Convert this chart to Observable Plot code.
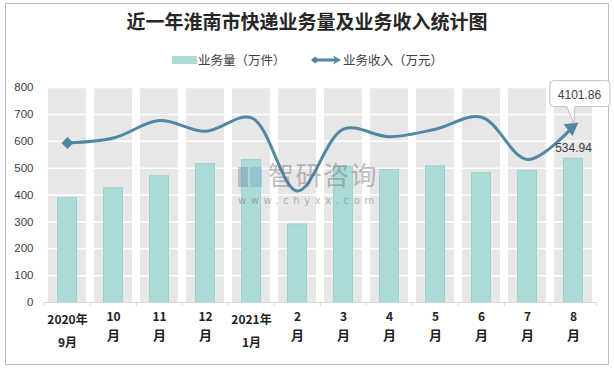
<!DOCTYPE html>
<html><head><meta charset="utf-8">
<script src="https://cdn.jsdelivr.net/npm/d3@7"></script>
<script src="https://cdn.jsdelivr.net/npm/@observablehq/plot@0.6"></script>
<style>
body{margin:0;background:#fff;font-family:"Noto Sans CJK SC","Noto Sans",sans-serif;}
#wrap{position:relative;width:614px;height:369px;overflow:hidden;background:#fff;}
#frame{position:absolute;left:5px;top:3px;width:602px;height:360px;border:1px solid #bdbdbd;}
#title{position:absolute;left:0;width:614px;top:7px;text-align:center;font-size:19px;font-weight:bold;color:#262626;line-height:28px;}
.leg{position:absolute;top:51px;font-size:12.5px;color:#404040;line-height:18px;}
#chart{position:absolute;left:0;top:75px;}
#wm1{position:absolute;left:268px;top:161px;font-size:26px;color:rgba(110,110,110,0.45);letter-spacing:1.5px;line-height:26px;}
#wm2{position:absolute;left:238px;top:195px;font-size:10px;color:rgba(110,110,110,0.5);letter-spacing:4.6px;font-family:"DejaVu Sans",sans-serif;line-height:11px;white-space:nowrap;}
#wmicon{position:absolute;left:238px;top:166px;width:24px;height:22px;}
</style></head>
<body>
<div id="wrap">
  <div id="frame"></div>
  <div id="title">近一年淮南市快递业务量及业务收入统计图</div>
  <div class="leg" style="left:172px;"><svg width="26" height="18" style="vertical-align:top"><rect x="0" y="5" width="25" height="8" fill="#aadbd7"/></svg><span id="legA"></span></div>
  <div class="leg" style="left:311px;"><svg width="32" height="18" style="vertical-align:top"><line x1="4" y1="9" x2="25" y2="9" stroke="#5088a2" stroke-width="3"/><path d="M0,9L4,5.5L8,9L4,12.5Z" fill="#5088a2"/><path d="M30,9L22,4.5L24,9L22,13.5Z" fill="#5088a2"/></svg><span id="legB"></span></div>
  <div id="chart"></div>
  <svg id="wmicon" viewBox="0 0 24 22"><rect x="0" y="1" width="10" height="20" fill="rgba(120,140,170,0.45)"/><rect x="12" y="1" width="12" height="20" fill="rgba(120,170,200,0.45)"/></svg>
  <div id="wm1">智研咨询</div>
  <div id="wm2">www.chyxx.com</div>
</div>
<script>
// ---- data ----
const months = ["2020年9月","10月","11月","12月","2021年1月","2月","3月","4月","5月","6月","7月","8月"];
const labelLine1 = ["2020年","10","11","12","2021年","2","3","4","5","6","7","8"];
const labelLine2 = ["9月","月","月","月","1月","月","月","月","月","月","月","月"];
const volume = [388, 425, 470, 515, 530, 290, 505, 493, 507, 482, 490, 534.94];       // 业务量（万件）
const revenue = [3710, 3825, 4230, 3980, 4295, 2595, 4030, 3855, 4030, 4310, 3325, 4101.86]; // 业务收入（万元）
const yTicks = [0, 100, 200, 300, 400, 500, 600, 700, 800];
const revenueAxis = [0, 5000]; // hidden secondary axis
const seriesNames = ["业务量（万件）", "业务收入（万元）"];

document.getElementById("legA").textContent = seriesNames[0];
document.getElementById("legB").textContent = seriesNames[1];

const yMax = yTicks[yTicks.length - 1];
const rows = months.map((m, i) => ({
  m, line1: labelLine1[i], line2: labelLine2[i], vol: volume[i], rev: revenue[i],
  revP: (revenue[i] - revenueAxis[0]) / (revenueAxis[1] - revenueAxis[0]) * yMax,
  isYear: labelLine1[i].includes("年")
}));
const yearRows = rows.filter(d => d.isYear);
const monthRows = rows.filter(d => !d.isYear);
const last = rows[rows.length - 1];

const W = 614, mL = 43, mR = 17;
const step = (W - mL - mR) / months.length;
const lineColor = "#5088a2";
const lblFont = "'Noto Sans CJK SC', sans-serif";

const chart = Plot.plot({
  width: W, height: 294, marginTop: 12, marginBottom: 67, marginLeft: mL, marginRight: mR,
  x: {domain: months, padding: 0, axis: null, label: null},
  y: {domain: [0, yMax], axis: null, label: null},
  style: {background: "transparent", overflow: "visible", fontFamily: "'Liberation Sans', Arial, sans-serif"},
  marks: [
    Plot.barY(rows, {x: "m", y: () => yMax, fill: "#e7e7e7", insetLeft: 4, insetRight: 4}),
    Plot.ruleY(yTicks.slice(1), {stroke: "#ffffff", strokeWidth: 1.5}),
    Plot.barY(rows, {x: "m", y: "vol", fill: "#aadbd7", stroke: "#9dd2cd", strokeWidth: 1, insetLeft: 13.5, insetRight: 13.5}),
    Plot.ruleY([0], {stroke: "#d9d9d9", strokeWidth: 1}),
    Plot.axisX({tickSize: 4, tickFormat: () => "", label: null, dx: -step / 2, stroke: "#d9d9d9"}),
    Plot.axisX({ticks: [months[months.length - 1]], tickSize: 4, tickFormat: () => "", label: null, dx: step / 2, stroke: "#d9d9d9"}),
    Plot.axisY({ticks: yTicks, tickSize: 0, tickPadding: 10, fontSize: 11.5, fill: "#404040", label: null, tickFormat: d => String(d)}),
    Plot.text(yearRows, {x: "m", text: "line1", frameAnchor: "bottom", dy: 21, fontSize: 12, fontWeight: "bold", fill: "#222", fontFamily: lblFont}),
    Plot.text(yearRows, {x: "m", text: "line2", frameAnchor: "bottom", dy: 44, fontSize: 12, fontWeight: "bold", fill: "#222", fontFamily: lblFont}),
    Plot.text(monthRows, {x: "m", text: "line1", frameAnchor: "bottom", dy: 18, fontSize: 12, fontWeight: "bold", fill: "#222", fontFamily: lblFont}),
    Plot.text(monthRows, {x: "m", text: "line2", frameAnchor: "bottom", dy: 37, fontSize: 13, fontWeight: "bold", fill: "#222", fontFamily: lblFont}),
    Plot.line(rows, {x: "m", y: "revP", curve: "catmull-rom", stroke: lineColor, strokeWidth: 3}),
    Plot.dot([rows[0]], {x: "m", y: "revP", symbol: "diamond2", r: 4.5, fill: lineColor, stroke: lineColor}),
    Plot.dot([last], {x: "m", y: "revP", symbol: "triangle", r: 4.5, rotate: 53, dx: -2, dy: 1.5, fill: lineColor, stroke: lineColor}),
    Plot.text([last], {x: "m", y: "vol", text: d => d.vol.toFixed(2), dy: -11, fontSize: 12, fill: "#404040"}),
    Plot.text([last], {x: "m", y: "revP", text: d => d.rev.toFixed(2), dx: 6, dy: -31, fontSize: 12, fill: "#404040"})
  ]
});

// callout box for the revenue label, positioned from the library's scales
const sx = chart.scale("x"), sy = chart.scale("y");
const stepPx = (sx.range[1] - sx.range[0]) / sx.domain.length;
const tipX = sx.range[0] + stepPx * (sx.domain.indexOf(last.m) + 0.5);
const tipY = sy.range[0] + (last.revP - sy.domain[0]) / (sy.domain[1] - sy.domain[0]) * (sy.range[1] - sy.range[0]);
const bx0 = tipX - 24, bx1 = tipX + 36, by0 = tipY - 45, by1 = tipY - 19, r = 4;
const p = d3.path();
p.moveTo(bx0 + r, by0);
p.lineTo(bx1 - r, by0); p.quadraticCurveTo(bx1, by0, bx1, by0 + r);
p.lineTo(bx1, by1 - r); p.quadraticCurveTo(bx1, by1, bx1 - r, by1);
p.lineTo(tipX + 1, by1); p.lineTo(tipX, tipY - 2); p.lineTo(tipX - 7, by1);
p.lineTo(bx0 + r, by1); p.quadraticCurveTo(bx0, by1, bx0, by1 - r);
p.lineTo(bx0, by0 + r); p.quadraticCurveTo(bx0, by0, bx0 + r, by0);
p.closePath();
const box = d3.create("svg:path").attr("d", p.toString()).attr("fill", "#fff").attr("stroke", "#bfbfbf").attr("stroke-width", 1).node();
chart.insertBefore(box, chart.lastChild);

document.getElementById("chart").appendChild(chart);
</script>
</body></html>
